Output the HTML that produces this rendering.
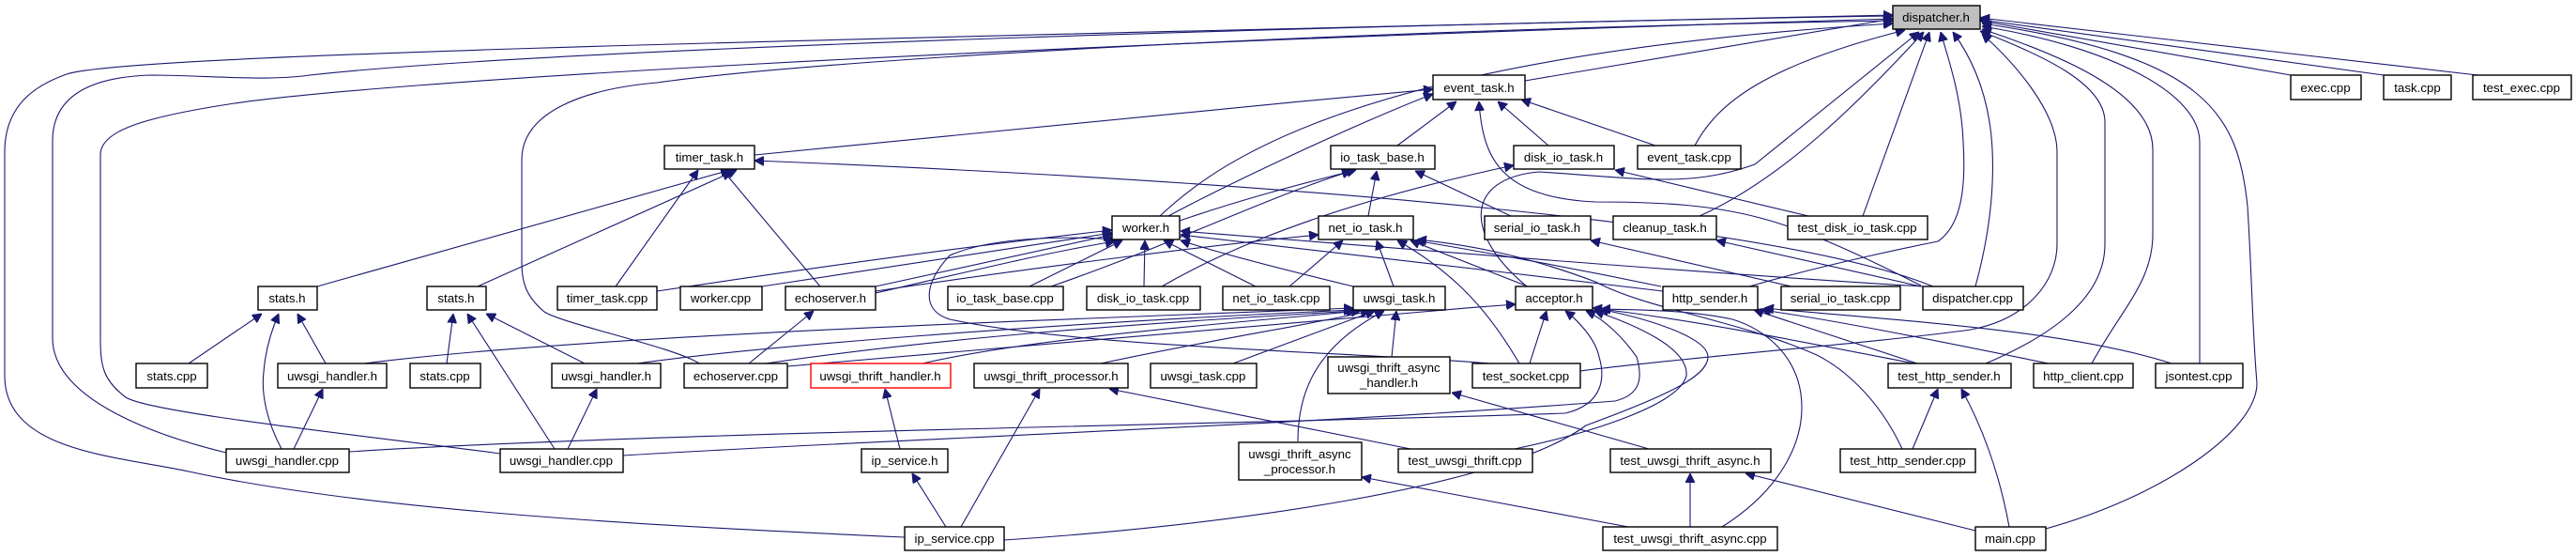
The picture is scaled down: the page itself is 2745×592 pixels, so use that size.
<!DOCTYPE html>
<html><head><meta charset="utf-8"><style>
html,body{margin:0;padding:0;background:#fff;}
svg{display:block;}
text{font-family:"Liberation Sans",sans-serif;font-size:13.3px;fill:#000;text-anchor:middle;}
.n{fill:#fff;stroke:#000;stroke-width:1.4;}
.e{fill:none;stroke:#191970;stroke-width:1.1;}
</style></head><body>
<svg width="2745" height="592" viewBox="0 0 2745 592" xmlns="http://www.w3.org/2000/svg">
<defs><marker id="a" viewBox="0 0 10 10" refX="10" refY="5" markerWidth="10" markerHeight="10" markerUnits="userSpaceOnUse" orient="auto"><path d="M0,0 L10,5 L0,10 z" fill="#191970" stroke="#191970"/></marker></defs>
<g class="e" marker-end="url(#a)">
<path d="M1625,86 L2017,20"/>
<path d="M2441,80 L2110,22"/>
<path d="M2540,80 L2110,21"/>
<path d="M2640,80 L2110,19"/>
<path d="M964,572 C700,560 400,545 201,502 C120,485 5,480 5,400 L5,162 C5,110 40,90 71,79 C130,60 700,45 2017,16"/>
<path d="M241,482 C150,460 56,420 56,360 L56,150 C56,100 100,82 160,80 C220,80 280,87 330,80 C600,50 1500,25 2017,17"/>
<path d="M533,483 C400,465 160,440 134,423 C110,405 107,390 107,360 L107,165 C107,140 150,125 250,110 C400,88 1000,50 2017,20"/>
<path d="M745,387 C720,370 600,345 580,332 C560,315 556,300 556,280 L556,170 C556,120 620,95 700,88 C900,60 1500,30 2017,22"/>
<path d="M1236,230 C1300,170 1450,60 2017,25"/>
<path d="M1806,155 C1830,110 1880,70 2030,32"/>
<path d="M1627,305 C1560,250 1560,190 1640,183 C1750,190 1800,200 1870,175 L2045,34"/>
<path d="M1811,230 C1900,190 1980,110 2050,34"/>
<path d="M1985,230 L2056,34"/>
<path d="M2105,305 C2120,250 2125,200 2123,159 C2120,100 2100,60 2081,34"/>
<path d="M1864,305 C1950,280 2050,260 2065,257 C2090,240 2095,200 2092,151 C2090,100 2075,60 2068,34"/>
<path d="M1684,395 C1800,380 2000,365 2100,351 C2160,340 2192,300 2192,260 L2192,162 C2192,120 2150,70 2112,36"/>
<path d="M2116,387 C2180,360 2243,320 2243,260 L2243,130 C2243,90 2180,60 2110,33"/>
<path d="M2229,387 C2260,330 2294,300 2294,250 L2294,159 C2294,100 2200,60 2112,31"/>
<path d="M2344,387 L2344,151 C2344,100 2250,50 2112,28"/>
<path d="M2180,563 C2300,530 2405,460 2405,408 C2400,350 2400,300 2395,220 C2385,120 2350,60 2112,25"/>
<path d="M1489,155 L1552,108"/>
<path d="M1650,155 L1596,108"/>
<path d="M1764,155 L1621,106"/>
<path d="M1245,230 C1320,190 1450,130 1527,100"/>
<path d="M804,165 C1100,138 1300,115 1527,95"/>
<path d="M2047,304 C1900,230 1850,215 1700,215 C1600,210 1580,170 1576,108"/>
<path d="M338,305 L778,181"/>
<path d="M509,305 L785,181"/>
<path d="M656,305 L744,181"/>
<path d="M874,305 L770,181"/>
<path d="M2060,305 C1900,240 1400,195 804,171"/>
<path d="M1458,230 L1467,182"/>
<path d="M1610,230 L1508,182"/>
<path d="M1257,235 C1330,210 1390,195 1445,181"/>
<path d="M1120,305 C1250,260 1350,210 1440,182"/>
<path d="M1238,305 C1350,240 1500,200 1613,176"/>
<path d="M1927,230 L1721,181"/>
<path d="M812,305 L1185,248"/>
<path d="M933,305 L1185,250"/>
<path d="M700,310 C900,280 1050,260 1185,245"/>
<path d="M933,312 C1050,285 1120,268 1188,257"/>
<path d="M1588,387 C1450,375 1150,370 1012,340 C980,330 986,300 1012,272 C1050,255 1120,250 1188,255"/>
<path d="M1097,305 L1196,256"/>
<path d="M1219,305 L1220,256"/>
<path d="M1338,305 L1240,256"/>
<path d="M1442,305 C1380,290 1300,270 1258,256"/>
<path d="M1772,310 C1600,290 1400,265 1258,250"/>
<path d="M2049,305 C1800,290 1500,265 1258,246"/>
<path d="M1485,305 L1467,256"/>
<path d="M1374,305 L1431,256"/>
<path d="M1619,387 C1580,320 1540,285 1489,256"/>
<path d="M1628,305 L1503,256"/>
<path d="M1770,305 C1650,280 1560,265 1508,256"/>
<path d="M2027,478 C2000,420 1960,390 1936,378 C1850,340 1757,330 1700,300 C1620,270 1560,260 1510,255"/>
<path d="M933,310 C1100,285 1300,260 1405,250"/>
<path d="M1909,305 L1695,256"/>
<path d="M2047,305 L1829,256"/>
<path d="M1483,380 L1488,331"/>
<path d="M388,387 C600,360 1000,345 1442,328"/>
<path d="M679,387 C800,370 1100,345 1442,330"/>
<path d="M816,387 C1000,360 1200,345 1445,331"/>
<path d="M983,387 C1100,360 1300,345 1450,331"/>
<path d="M1173,387 C1300,360 1400,345 1460,331"/>
<path d="M1314,387 L1465,331"/>
<path d="M1383,470 C1383,420 1400,370 1475,331"/>
<path d="M1630,387 L1648,331"/>
<path d="M372,481 C700,460 1400,450 1668,440 C1710,430 1710,400 1704,380 C1700,360 1680,340 1668,331"/>
<path d="M664,485 C900,470 1400,452 1721,427 C1750,420 1750,400 1744,380 C1730,360 1710,340 1690,331"/>
<path d="M1614,478 C1700,460 1790,430 1797,400 C1800,370 1740,345 1699,331"/>
<path d="M1070,575 C1300,560 1600,520 1690,453 C1780,420 1820,400 1820,380 C1820,360 1760,340 1704,329"/>
<path d="M1835,561 C1900,520 1920,470 1920,434 C1920,380 1880,350 1846,340 C1800,330 1750,330 1706,329"/>
<path d="M2040,387 C1900,360 1800,340 1697,328"/>
<path d="M816,392 C1200,360 1400,340 1615,324"/>
<path d="M2043,387 L1869,330"/>
<path d="M2183,387 C2050,360 1950,340 1877,330"/>
<path d="M2314,387 C2200,350 2000,340 1880,328"/>
<path d="M2038,478 L2065,414"/>
<path d="M2141,561 C2130,500 2110,450 2090,414"/>
<path d="M1024,561 L1108,414"/>
<path d="M1503,478 L1182,414"/>
<path d="M959,478 L943,414"/>
<path d="M1008,561 L972,504"/>
<path d="M1757,478 L1547,418"/>
<path d="M1735,561 L1451,508"/>
<path d="M1801,561 L1801,504"/>
<path d="M2105,565 L1860,504"/>
<path d="M201,387 L279,334"/>
<path d="M347,387 L317,334"/>
<path d="M300,478 C285,450 278,420 281,396 C283,370 290,350 297,334"/>
<path d="M476,387 L483,334"/>
<path d="M591,478 L498,334"/>
<path d="M623,387 L518,334"/>
<path d="M313,478 L344,414"/>
<path d="M605,478 L636,414"/>
<path d="M798,387 L867,331"/>
</g>
<g>
<rect class="n" x="2017" y="6" width="93" height="25" style="fill:#bfbfbf"/><text x="2063" y="23">dispatcher.h</text>
<rect class="n" x="1527" y="80" width="98" height="26"/><text x="1576" y="98">event_task.h</text>
<rect class="n" x="2441" y="80" width="75" height="26"/><text x="2478" y="98">exec.cpp</text>
<rect class="n" x="2540" y="80" width="72" height="26"/><text x="2576" y="98">task.cpp</text>
<rect class="n" x="2635" y="80" width="105" height="26"/><text x="2687" y="98">test_exec.cpp</text>
<rect class="n" x="708" y="155" width="96" height="25"/><text x="756" y="172">timer_task.h</text>
<rect class="n" x="1418" y="155" width="111" height="25"/><text x="1473" y="172">io_task_base.h</text>
<rect class="n" x="1613" y="155" width="107" height="25"/><text x="1666" y="172">disk_io_task.h</text>
<rect class="n" x="1745" y="155" width="110" height="25"/><text x="1800" y="172">event_task.cpp</text>
<rect class="n" x="1185" y="230" width="72" height="25"/><text x="1221" y="247">worker.h</text>
<rect class="n" x="1405" y="230" width="101" height="25"/><text x="1455" y="247">net_io_task.h</text>
<rect class="n" x="1582" y="230" width="113" height="25"/><text x="1638" y="247">serial_io_task.h</text>
<rect class="n" x="1719" y="230" width="110" height="25"/><text x="1774" y="247">cleanup_task.h</text>
<rect class="n" x="1905" y="230" width="149" height="25"/><text x="1979" y="247">test_disk_io_task.cpp</text>
<rect class="n" x="275" y="305" width="63" height="25"/><text x="306" y="322">stats.h</text>
<rect class="n" x="455" y="305" width="63" height="25"/><text x="486" y="322">stats.h</text>
<rect class="n" x="594" y="305" width="106" height="25"/><text x="647" y="322">timer_task.cpp</text>
<rect class="n" x="725" y="305" width="87" height="25"/><text x="768" y="322">worker.cpp</text>
<rect class="n" x="837" y="305" width="96" height="25"/><text x="885" y="322">echoserver.h</text>
<rect class="n" x="1010" y="305" width="123" height="25"/><text x="1071" y="322">io_task_base.cpp</text>
<rect class="n" x="1158" y="305" width="121" height="25"/><text x="1218" y="322">disk_io_task.cpp</text>
<rect class="n" x="1303" y="305" width="114" height="25"/><text x="1360" y="322">net_io_task.cpp</text>
<rect class="n" x="1442" y="305" width="98" height="25"/><text x="1491" y="322">uwsgi_task.h</text>
<rect class="n" x="1615" y="305" width="82" height="25"/><text x="1656" y="322">acceptor.h</text>
<rect class="n" x="1772" y="305" width="101" height="25"/><text x="1822" y="322">http_sender.h</text>
<rect class="n" x="1898" y="305" width="127" height="25"/><text x="1961" y="322">serial_io_task.cpp</text>
<rect class="n" x="2049" y="305" width="107" height="25"/><text x="2102" y="322">dispatcher.cpp</text>
<rect class="n" x="145" y="387" width="76" height="26"/><text x="183" y="405">stats.cpp</text>
<rect class="n" x="296" y="387" width="116" height="26"/><text x="354" y="405">uwsgi_handler.h</text>
<rect class="n" x="437" y="387" width="75" height="26"/><text x="474" y="405">stats.cpp</text>
<rect class="n" x="588" y="387" width="116" height="26"/><text x="646" y="405">uwsgi_handler.h</text>
<rect class="n" x="729" y="387" width="110" height="26"/><text x="784" y="405">echoserver.cpp</text>
<rect class="n" x="864" y="387" width="149" height="26" style="stroke:#ff0000"/><text x="938" y="405">uwsgi_thrift_handler.h</text>
<rect class="n" x="1038" y="387" width="164" height="26"/><text x="1120" y="405">uwsgi_thrift_processor.h</text>
<rect class="n" x="1226" y="387" width="113" height="26"/><text x="1282" y="405">uwsgi_task.cpp</text>
<rect class="n" x="1415" y="380" width="130" height="39"/><text x="1480" y="396">uwsgi_thrift_async</text><text x="1480" y="412">_handler.h</text>
<rect class="n" x="1569" y="387" width="115" height="26"/><text x="1626" y="405">test_socket.cpp</text>
<rect class="n" x="2012" y="387" width="131" height="26"/><text x="2077" y="405">test_http_sender.h</text>
<rect class="n" x="2167" y="387" width="106" height="26"/><text x="2220" y="405">http_client.cpp</text>
<rect class="n" x="2297" y="387" width="93" height="26"/><text x="2343" y="405">jsontest.cpp</text>
<rect class="n" x="241" y="478" width="131" height="25"/><text x="306" y="495">uwsgi_handler.cpp</text>
<rect class="n" x="533" y="478" width="131" height="25"/><text x="598" y="495">uwsgi_handler.cpp</text>
<rect class="n" x="918" y="478" width="92" height="25"/><text x="964" y="495">ip_service.h</text>
<rect class="n" x="1320" y="471" width="131" height="40"/><text x="1385" y="488">uwsgi_thrift_async</text><text x="1385" y="504">_processor.h</text>
<rect class="n" x="1490" y="478" width="143" height="25"/><text x="1561" y="495">test_uwsgi_thrift.cpp</text>
<rect class="n" x="1716" y="478" width="171" height="25"/><text x="1801" y="495">test_uwsgi_thrift_async.h</text>
<rect class="n" x="1961" y="478" width="144" height="25"/><text x="2033" y="495">test_http_sender.cpp</text>
<rect class="n" x="964" y="561" width="106" height="25"/><text x="1017" y="578">ip_service.cpp</text>
<rect class="n" x="1708" y="561" width="186" height="25"/><text x="1801" y="578">test_uwsgi_thrift_async.cpp</text>
<rect class="n" x="2105" y="561" width="75" height="25"/><text x="2142" y="578">main.cpp</text>
</g>
</svg>
</body></html>
